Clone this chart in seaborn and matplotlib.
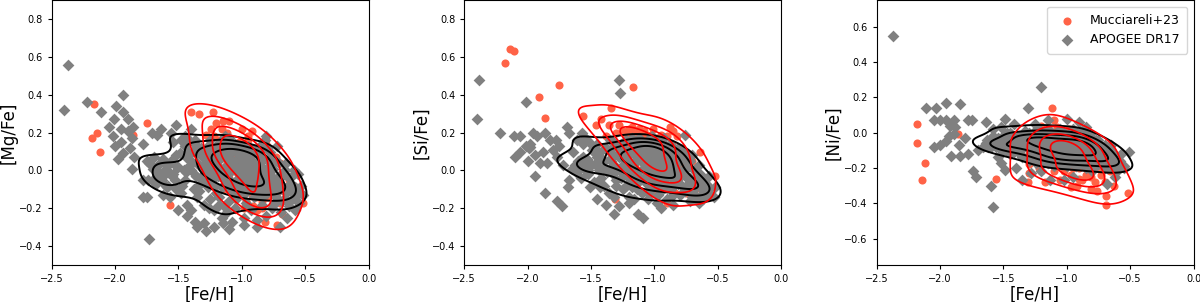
import matplotlib
matplotlib.use("Agg")
import matplotlib.pyplot as plt
import pandas as pd
import seaborn as sns

# ---- [Mg/Fe] vs [Fe/H] ------------------------------------------------------
apogee_mg = [
    (-2.37, 0.56), (-2.40, 0.32), (-2.22, 0.36), (-2.11, 0.31), (-1.94, 0.40), (-1.99, 0.34),
    (-1.94, 0.31), (-2.01, 0.27), (-1.90, 0.27), (-2.05, 0.23), (-1.95, 0.22), (-2.02, 0.18),
    (-1.90, 0.21), (-1.86, 0.23), (-2.00, 0.13), (-1.95, 0.15), (-1.87, 0.17), (-1.94, 0.09),
    (-1.85, 0.07), (-1.88, 0.12), (-1.78, 0.14), (-1.87, 0.01), (-1.71, 0.20), (-1.64, 0.22),
    (-1.67, 0.19), (-1.78, -0.05), (-1.73, 0.04), (-1.69, 0.07), (-1.75, -0.14), (-1.62, -0.13),
    (-1.60, -0.08), (-1.67, -0.03), (-1.62, -0.03), (-1.56, 0.20), (-1.52, 0.24), (-1.48, 0.16),
    (-1.50, -0.21), (-1.43, -0.24), (-1.37, -0.27), (-1.35, -0.30), (-1.73, -0.36),
    (-1.98, 0.06), (-1.45, 0.18), (-1.40, 0.22), (-0.81, 0.18),
    (-0.72, 0.13), (-1.30, -0.28), (-1.22, -0.30), (-1.10, -0.31), (-0.98, -0.29), (-0.88, -0.30),
    (-0.70, -0.30), (-0.64, -0.25), (-1.40, -0.21), (-1.28, -0.32), (-1.15, -0.28), (-0.60, -0.03),
    (-0.53, -0.08), (-1.54, 0.15), (-1.42, 0.16), (-1.75, 0.05), (-1.74, -0.05), (-1.78, -0.14),
    (-1.59, -0.09), (-1.62, -0.01), (-1.66, 0.03), (-1.64, -0.05), (-1.70, 0.01), (-1.61, 0.04),
    (-1.58, -0.01), (-1.68, -0.07),
    (-1.05, 0.05), (-1.00, 0.03), (-1.10, 0.06), (-0.95, 0.02), (-1.02, 0.08), (-1.08, 0.00),
    (-0.98, 0.07), (-1.12, 0.03), (-1.04, -0.01), (-0.92, 0.05), (-1.15, 0.08), (-1.06, 0.11),
    (-0.97, 0.10), (-0.90, 0.00), (-1.18, 0.02), (-1.00, -0.03), (-0.88, 0.04), (-1.13, -0.02),
    (-1.03, 0.13), (-0.94, -0.04), (-1.20, 0.06), (-1.25, 0.01), (-1.22, -0.04), (-1.28, 0.08),
    (-1.30, -0.02), (-1.35, 0.04), (-1.33, -0.07), (-1.40, 0.00), (-1.38, -0.10), (-1.45, -0.05),
    (-1.50, 0.02), (-1.48, -0.12), (-1.55, -0.03), (-1.60, 0.01), (-1.58, -0.08), (-1.65, -0.02),
    (-1.42, 0.09), (-1.27, 0.13), (-1.17, 0.15), (-1.10, 0.17), (-0.85, -0.02), (-0.80, -0.05),
    (-0.83, 0.06), (-0.75, -0.08), (-0.78, 0.01), (-0.70, -0.10), (-0.72, -0.04), (-0.65, -0.12),
    (-0.62, -0.07), (-0.60, -0.15), (-0.57, -0.11), (-0.55, -0.17), (-0.68, -0.16), (-0.73, -0.14),
    (-0.80, -0.12), (-0.86, -0.09), (-0.90, -0.07), (-0.95, -0.10), (-1.00, -0.09), (-1.05, -0.07),
    (-1.10, -0.10), (-1.15, -0.08), (-1.20, -0.12), (-1.25, -0.15), (-1.18, -0.18), (-1.10, -0.16),
    (-1.03, -0.14), (-0.97, -0.17), (-0.90, -0.14), (-0.84, -0.18), (-1.30, -0.18), (-1.22, -0.21),
    (-1.12, -0.22), (-1.05, -0.20), (-0.93, -0.21), (-1.35, -0.14), (-0.99, 0.00), (-1.07, 0.04),
    (-1.01, 0.06), (-0.96, 0.04), (-1.09, 0.09), (-1.04, 0.02), (-0.93, 0.08), (-1.14, 0.11),
    (-0.89, 0.10), (-0.86, 0.13), (-0.82, 0.16), (-0.78, 0.10), (-0.74, 0.05), (-0.66, 0.00),
    (-1.23, 0.10), (-1.32, 0.12), (-1.37, 0.16), (-1.45, 0.13), (-1.52, 0.08), (-1.62, 0.06),
    (-1.68, 0.00), (-1.70, -0.05), (-1.57, -0.14), (-1.43, -0.18), (-0.63, -0.19), (-0.58, -0.21),
    (-0.52, -0.13), (-0.69, -0.22), (-0.76, -0.20), (-0.81, -0.24), (-0.88, -0.26), (-0.98, -0.25),
    (-1.08, -0.27), (-1.16, -0.25),
    (-1.20, 0.00), (-1.24, 0.05), (-1.18, 0.09), (-1.14, 0.13), (-1.07, 0.14), (-0.99, 0.13),
    (-0.91, 0.11), (-0.86, 0.07), (-0.84, 0.02), (-0.87, -0.04), (-0.92, -0.08), (-0.98, -0.06),
    (-1.04, -0.05), (-1.12, -0.05), (-1.17, -0.03), (-1.26, -0.03), (-1.29, 0.04), (-1.22, 0.08),
    (-0.82, -0.08), (-0.77, -0.03), (-1.40, 0.05), (-1.44, -0.01), (-1.36, -0.03), (-1.32, 0.08),
    (-1.27, -0.09), (-1.18, -0.14), (-1.07, -0.12), (-0.99, -0.13), (-0.88, -0.11), (-0.77, -0.11),
    (-0.70, -0.07), (-0.66, -0.15), (-0.61, -0.11), (-0.58, -0.14), (-0.74, -0.17), (-0.84, -0.14),
    (-0.96, -0.19), (-1.14, -0.19), (-1.26, -0.20), (-1.34, -0.11), (-1.47, -0.08), (-1.53, -0.05),
    (-1.57, 0.04), (-1.63, -0.05), (-1.52, -0.10), (-0.68, -0.03), (-0.76, 0.07), (-0.80, 0.12),
    (-1.20, 0.13), (-1.13, 0.18),
    (-1.46, 0.00), (-1.44, 0.07), (-1.45, 0.13), (-1.36, -0.03), (-1.34, 0.03), (-1.35, 0.09),
    (-1.37, 0.14), (-1.26, -0.07), (-1.24, -0.02), (-1.25, 0.03), (-1.27, 0.08), (-1.23, 0.12),
    (-1.25, 0.16), (-1.16, -0.09), (-1.14, -0.04), (-1.15, 0.01), (-1.17, 0.06), (-1.13, 0.11),
    (-1.15, 0.15), (-1.06, -0.10), (-1.04, -0.05), (-1.05, 0.00), (-1.07, 0.05), (-1.03, 0.10),
    (-1.05, 0.14), (-0.96, -0.11), (-0.94, -0.06), (-0.95, -0.01), (-0.97, 0.04), (-0.93, 0.09),
    (-0.95, 0.13), (-0.86, -0.13), (-0.84, -0.08), (-0.85, -0.03), (-0.87, 0.02), (-0.83, 0.07),
    (-0.85, 0.11), (-0.76, -0.11), (-0.74, -0.05), (-0.75, 0.01), (-0.77, 0.07), (-0.66, -0.10),
    (-0.64, -0.03), (-0.65, 0.04), (-1.56, 0.05), (-1.54, -0.02), (-0.58, -0.09), (-0.56, -0.02),
    (-1.41, 0.03), (-1.39, 0.10), (-1.31, -0.05), (-1.29, 0.01), (-1.31, 0.07), (-1.21, -0.08),
    (-1.19, -0.03), (-1.21, 0.02), (-1.19, 0.07), (-1.21, 0.12), (-1.09, -0.09), (-1.11, -0.04),
    (-1.09, 0.01), (-1.11, 0.06), (-1.09, 0.11), (-1.01, -0.10), (-0.99, -0.05), (-1.01, 0.00),
    (-0.99, 0.05), (-1.01, 0.10), (-0.91, -0.11), (-0.89, -0.06), (-0.91, -0.01), (-0.89, 0.04),
    (-0.91, 0.09), (-0.81, -0.10), (-0.79, -0.05), (-0.81, 0.00), (-0.79, 0.05), (-0.71, -0.08),
    (-0.69, -0.02), (-0.71, 0.04), (-0.61, -0.07), (-0.59, 0.00), (-1.51, 0.02), (-1.49, 0.09),
]
mucc_mg = [
    (-2.17, 0.35), (-2.14, 0.20), (-2.18, 0.17), (-2.12, 0.10), (-1.75, 0.25), (-1.86, 0.19),
    (-1.57, -0.18), (-1.40, 0.31), (-1.34, 0.30), (-1.23, 0.31), (-1.20, 0.25), (-1.15, 0.26),
    (-1.10, 0.26), (-1.24, 0.22), (-1.16, 0.22), (-1.28, 0.19), (-1.00, 0.22), (-0.95, 0.18),
    (-0.99, 0.14), (-0.81, 0.14), (-0.73, 0.07), (-0.86, 0.06), (-0.70, 0.04), (-0.63, -0.05),
    (-0.59, -0.08), (-0.52, -0.17), (-0.89, -0.14), (-0.84, -0.16), (-0.80, -0.14), (-0.97, -0.16),
    (-0.91, -0.19), (-0.84, -0.20), (-0.76, -0.19), (-0.68, -0.23), (-0.82, -0.27), (-0.72, -0.29),
    (-1.10, 0.13), (-1.31, 0.09), (-1.07, 0.06),
    (-1.05, 0.05), (-1.00, 0.02), (-0.98, 0.08), (-1.08, 0.10), (-0.95, -0.02), (-1.03, -0.04),
    (-0.92, 0.04), (-1.12, 0.04), (-1.00, 0.11), (-0.90, -0.06), (-0.97, -0.08), (-1.06, 0.00),
    (-0.94, 0.10), (-1.02, 0.15), (-0.88, 0.00), (-1.15, 0.10), (-0.85, -0.10), (-1.10, -0.02),
    (-0.93, -0.12), (-1.18, 0.16), (-0.80, -0.05), (-1.20, 0.05), (-0.99, -0.01), (-1.04, 0.08),
    (-1.22, 0.18), (-1.18, 0.10), (-1.12, 0.20), (-1.08, -0.08), (-1.02, -0.12), (-0.95, 0.16),
    (-0.90, 0.12), (-0.86, 0.09), (-0.82, -0.02), (-0.78, -0.08), (-0.76, 0.02), (-0.72, -0.12),
    (-0.70, -0.17), (-0.88, -0.21), (-0.98, -0.20), (-1.05, -0.15), (-1.14, -0.10), (-1.20, -0.03),
    (-1.25, 0.10), (-0.92, 0.21),
]

# ---- [Si/Fe] vs [Fe/H] ------------------------------------------------------
apogee_si = [
    (-2.38, 0.48), (-2.40, 0.27), (-2.01, 0.36), (-2.22, 0.20), (-2.11, 0.18), (-2.06, 0.18),
    (-1.96, 0.20), (-1.93, 0.18), (-1.86, 0.20), (-1.98, 0.14), (-2.06, 0.10), (-1.94, 0.08),
    (-1.90, 0.04), (-1.85, 0.04), (-1.94, -0.03), (-1.77, 0.07), (-1.78, 0.16), (-1.75, 0.13),
    (-1.69, 0.23), (-1.67, 0.20), (-1.61, 0.16), (-1.72, 0.03), (-1.67, -0.05), (-1.68, -0.09),
    (-1.86, -0.12), (-1.77, -0.16), (-1.73, -0.19), (-1.53, 0.06), (-1.51, -0.09), (-1.43, -0.09),
    (-1.32, -0.23), (-1.28, -0.19), (-1.13, -0.23), (-1.09, -0.25), (-1.28, 0.48), (-1.27, 0.41),
    (-1.35, 0.16), (-1.57, 0.20), (-1.56, 0.14), (-1.80, 0.11), (-2.01, 0.13), (-2.10, 0.07),
    (-0.76, 0.19), (-0.52, -0.09), (-0.53, -0.14), (-0.72, -0.16), (-1.88, 0.10), (-1.82, 0.16),
    (-2.00, 0.05), (-1.64, 0.10), (-1.60, 0.02), (-1.58, -0.04), (-1.45, -0.15), (-1.38, -0.18),
    (-1.20, -0.17), (-0.95, -0.20), (-0.85, -0.18), (-0.65, -0.17), (-1.50, 0.14), (-1.46, 0.10),
    (-1.99, 0.12), (-1.98, 0.125), (-1.55, 0.17), (-1.54, 0.165),
    (-1.02, 0.05), (-0.98, 0.03), (-1.06, 0.06), (-0.95, 0.02), (-1.00, 0.08), (-1.04, 0.01),
    (-0.97, 0.06), (-1.09, 0.04), (-1.01, 0.00), (-0.93, 0.05), (-1.05, 0.09), (-0.99, 0.10),
    (-0.91, 0.01), (-1.12, 0.07), (-1.03, -0.02), (-0.96, -0.01), (-1.07, 0.02), (-1.00, 0.04),
    (-0.94, 0.08), (-1.10, 0.10), (-1.15, 0.08), (-1.20, 0.05), (-1.18, 0.12), (-1.25, 0.03),
    (-1.22, 0.10), (-1.13, 0.13), (-1.05, 0.14), (-0.95, 0.13), (-0.88, 0.08), (-0.85, 0.03),
    (-0.88, -0.02), (-0.92, -0.05), (-1.00, -0.05), (-1.08, -0.04), (-1.15, -0.02), (-1.20, -0.04),
    (-0.82, -0.05), (-0.80, 0.05), (-0.84, 0.11), (-1.28, 0.07), (-1.35, 0.06), (-1.40, 0.02),
    (-1.45, 0.07), (-1.50, 0.03), (-1.55, 0.00), (-1.60, 0.05), (-1.65, 0.01), (-1.42, -0.04),
    (-1.33, -0.02), (-1.30, -0.08), (-1.25, -0.10), (-1.18, -0.09), (-1.10, -0.12), (-1.02, -0.10),
    (-0.95, -0.11), (-0.87, -0.10), (-0.78, -0.08), (-0.72, -0.04), (-0.68, -0.09), (-0.62, -0.12),
    (-0.58, -0.08), (-0.56, -0.13), (-0.65, -0.03), (-0.74, 0.02), (-0.77, 0.10), (-0.70, 0.08),
    (-1.30, 0.13), (-1.22, 0.16), (-1.12, 0.17), (-1.02, 0.18), (-0.92, 0.17), (-1.38, 0.12),
    (-1.48, -0.06), (-1.36, -0.12), (-1.20, -0.14), (-1.05, -0.15), (-0.90, -0.15), (-0.80, -0.13),
    (-0.70, -0.14), (-0.62, -0.15),
    (-1.27, 0.00), (-1.32, 0.03), (-1.17, 0.01), (-1.13, -0.06), (-0.90, 0.11), (-0.86, -0.07),
    (-0.76, -0.02), (-0.66, -0.06), (-1.44, 0.00), (-1.52, -0.02), (-1.58, 0.06), (-1.62, -0.01),
    (-0.60, -0.10), (-1.10, 0.15), (-0.98, 0.15),
    (-1.16, 0.04), (-1.21, 0.08), (-1.17, 0.11), (-1.10, 0.13), (-1.00, 0.13), (-0.92, 0.11),
    (-0.86, 0.06), (-0.83, 0.01), (-0.86, -0.04), (-0.92, -0.08), (-0.99, -0.08), (-1.06, -0.06),
    (-1.13, -0.03), (-1.19, 0.00), (-1.24, 0.06), (-1.26, 0.10), (-0.80, -0.03), (-0.78, 0.07),
    (-0.88, 0.14), (-1.14, 0.16), (-1.34, 0.09), (-1.40, 0.05), (-1.37, -0.01), (-1.46, 0.04),
    (-1.52, 0.00), (-1.57, 0.03), (-1.63, 0.03), (-1.48, 0.10), (-1.30, -0.05), (-1.22, -0.08),
    (-1.14, -0.10), (-1.05, -0.12), (-0.97, -0.13), (-0.85, -0.13), (-0.76, -0.11), (-0.70, -0.11),
    (-0.64, -0.09), (-0.60, -0.13), (-0.57, -0.10), (-0.66, -0.14), (-0.73, -0.07), (-0.68, 0.00),
    (-0.72, 0.05), (-0.81, 0.12), (-1.26, 0.14), (-1.18, 0.17), (-1.40, -0.08), (-1.32, -0.14),
    (-1.16, -0.15), (-0.98, -0.17),
    (-1.46, 0.03), (-1.44, 0.09), (-1.45, 0.14), (-1.36, 0.00), (-1.34, 0.05), (-1.35, 0.11),
    (-1.33, 0.15), (-1.26, -0.04), (-1.24, 0.01), (-1.25, 0.06), (-1.27, 0.11), (-1.23, 0.15),
    (-1.16, -0.06), (-1.14, -0.01), (-1.15, 0.04), (-1.17, 0.09), (-1.13, 0.14), (-1.06, -0.07),
    (-1.04, -0.02), (-1.05, 0.03), (-1.07, 0.08), (-1.03, 0.12), (-1.05, 0.16), (-0.96, -0.08),
    (-0.94, -0.03), (-0.95, 0.02), (-0.97, 0.07), (-0.93, 0.11), (-0.95, 0.15), (-0.86, -0.09),
    (-0.84, -0.04), (-0.85, 0.01), (-0.87, 0.06), (-0.83, 0.10), (-0.76, -0.09), (-0.74, -0.04),
    (-0.75, 0.01), (-0.77, 0.06), (-0.66, -0.08), (-0.64, -0.02), (-0.65, 0.03), (-1.56, 0.07),
    (-1.54, 0.01), (-0.59, -0.07), (-0.57, -0.03), (-1.41, 0.06), (-1.39, 0.12), (-1.31, 0.02),
    (-1.29, 0.08), (-1.21, -0.02), (-1.19, 0.04), (-1.21, 0.10), (-1.11, -0.05), (-1.09, 0.01),
    (-1.11, 0.06), (-1.09, 0.11), (-1.01, -0.06), (-0.99, -0.01), (-1.01, 0.04), (-0.99, 0.09),
    (-1.01, 0.14), (-0.91, -0.07), (-0.89, -0.02), (-0.91, 0.03), (-0.89, 0.08), (-0.81, -0.07),
    (-0.79, -0.01), (-0.81, 0.04), (-0.71, -0.06), (-0.69, 0.00), (-0.61, -0.05), (-1.51, 0.04),
    (-1.49, 0.11),
]
mucc_si = [
    (-2.18, 0.57), (-2.14, 0.64), (-2.11, 0.63), (-1.91, 0.39), (-1.86, 0.28), (-1.75, 0.45),
    (-1.17, 0.44), (-1.34, 0.33), (-1.56, 0.29), (-1.46, 0.24), (-1.42, 0.27), (-1.36, 0.24),
    (-1.18, 0.23), (-1.08, 0.21), (-1.01, 0.22), (-0.88, 0.23), (-0.85, 0.21), (-0.64, 0.10),
    (-0.52, -0.03), (-1.31, -0.15), (-0.90, -0.17), (-0.77, -0.09),
    (-1.25, 0.21), (-1.22, 0.19), (-1.20, 0.22), (-1.17, 0.20), (-1.14, 0.18), (-1.12, 0.22),
    (-1.10, 0.19), (-1.06, 0.17), (-1.03, 0.19), (-0.98, 0.17), (-0.95, 0.19), (-1.19, 0.16),
    (-1.15, 0.15), (-1.08, 0.14), (-0.92, 0.14), (-1.28, 0.24), (-1.30, 0.20), (-0.82, 0.18),
    (-0.78, 0.12), (-0.70, 0.05),
    (-1.05, 0.10), (-1.00, 0.07), (-0.96, 0.05), (-1.02, 0.03), (-1.08, 0.08), (-0.98, 0.11),
    (-0.94, 0.02), (-1.04, 0.13), (-0.90, 0.06), (-0.92, -0.02), (-0.86, 0.00), (-1.10, 0.05),
    (-0.97, -0.04), (-0.83, -0.06), (-0.75, -0.12), (-0.65, -0.07), (-1.12, 0.11), (-0.88, 0.10),
    (-1.00, 0.00), (-0.80, 0.03), (-1.15, 0.02), (-1.20, 0.08),
    (-1.22, 0.14), (-1.18, 0.04), (-1.14, -0.02), (-1.06, -0.04), (-0.98, -0.08), (-0.92, -0.10),
    (-0.84, -0.12), (-0.80, -0.02), (-0.76, 0.06), (-0.72, -0.04), (-0.68, -0.10), (-0.86, 0.14),
    (-0.90, 0.18), (-1.26, 0.08), (-1.32, 0.14), (-1.38, 0.18), (-0.62, -0.04), (-1.02, -0.12),
    (-1.10, 0.00), (-0.95, 0.00),
]

# ---- [Ni/Fe] vs [Fe/H] ------------------------------------------------------
apogee_ni = [
    (-2.37, 0.55), (-2.11, 0.14), (-2.03, 0.14), (-1.95, 0.17), (-1.84, 0.16), (-2.05, 0.07),
    (-2.00, 0.07), (-1.95, 0.07), (-1.89, 0.07), (-2.05, -0.08), (-2.00, -0.07), (-1.93, -0.02),
    (-1.95, -0.05), (-1.91, -0.13), (-1.84, -0.13), (-1.85, -0.07), (-1.89, -0.01), (-1.78, 0.07),
    (-1.75, 0.07), (-1.78, -0.12), (-1.74, -0.22), (-1.72, -0.25), (-1.64, 0.06), (-1.63, -0.04),
    (-1.66, -0.08), (-1.58, 0.02), (-1.52, 0.03), (-1.49, 0.08), (-1.54, -0.14), (-1.60, -0.30),
    (-1.58, -0.42), (-1.49, -0.21), (-1.31, 0.14), (-1.20, 0.26), (-1.35, -0.27), (-0.90, 0.06),
    (-0.51, -0.11), (-0.60, -0.22), (-0.68, -0.29), (-1.13, -0.27), (-1.02, -0.27), (-1.88, 0.03),
    (-1.92, 0.04), (-1.80, -0.03), (-1.70, -0.10), (-1.56, -0.07), (-1.52, -0.17), (-1.45, -0.12),
    (-1.40, -0.20), (-1.47, 0.00), (-1.42, 0.05), (-1.25, 0.05), (-1.15, 0.07), (-1.00, 0.08),
    (-0.85, 0.03), (-0.70, -0.07), (-0.62, -0.25), (-0.55, -0.20), (-1.28, -0.23), (-1.20, -0.22),
    (-0.95, -0.25), (-0.80, -0.22),
    (-1.05, -0.07), (-1.00, -0.08), (-1.10, -0.06), (-0.95, -0.09), (-1.03, -0.05), (-1.08, -0.09),
    (-0.98, -0.06), (-1.13, -0.08), (-1.02, -0.10), (-0.93, -0.07), (-1.07, -0.04), (-0.97, -0.11),
    (-1.15, -0.05), (-0.90, -0.10), (-1.04, -0.12), (-1.11, -0.11), (-0.99, -0.03), (-0.94, -0.04),
    (-1.06, -0.08), (-1.01, -0.06), (-1.20, -0.04), (-1.25, -0.07), (-1.18, -0.10), (-1.30, -0.05),
    (-1.22, -0.01), (-1.12, -0.01), (-0.88, -0.05), (-0.85, -0.09), (-0.80, -0.12), (-0.87, -0.14),
    (-0.95, -0.14), (-1.05, -0.15), (-1.15, -0.14), (-1.25, -0.12), (-0.78, -0.07), (-0.92, 0.00),
    (-1.02, 0.00), (-0.75, -0.14), (-1.35, -0.08), (-1.28, -0.10), (-1.40, -0.05), (-1.45, -0.08),
    (-1.50, -0.04), (-1.55, -0.07), (-1.60, -0.05), (-1.62, -0.08), (-1.42, -0.11), (-1.35, -0.14),
    (-1.30, -0.16), (-1.20, -0.18), (-1.10, -0.19), (-1.00, -0.19), (-0.90, -0.18), (-0.80, -0.17),
    (-0.72, -0.16), (-0.68, -0.12), (-0.65, -0.18), (-0.60, -0.15), (-0.57, -0.19), (-0.70, -0.20),
    (-0.75, -0.04), (-0.82, -0.01), (-1.33, -0.01), (-1.25, 0.01), (-1.15, 0.02), (-1.05, 0.02),
    (-0.95, 0.02), (-0.85, -0.03), (-1.38, -0.02), (-1.48, -0.10), (-0.62, -0.21), (-0.67, -0.08),
    (-0.73, -0.10), (-0.77, -0.19), (-0.85, -0.20),
    (-1.18, -0.06), (-1.28, -0.03), (-1.45, -0.02), (-1.52, -0.09), (-1.58, -0.02),
    (-0.86, -0.11), (-0.82, -0.06), (-0.70, -0.13), (-0.63, -0.17), (-1.10, -0.16), (-0.97, -0.16),
    (-1.22, -0.15),
    (-1.19, -0.08), (-1.23, -0.04), (-1.21, -0.11), (-1.16, -0.01), (-1.08, 0.00), (-0.98, -0.01),
    (-0.89, -0.02), (-0.84, -0.06), (-0.83, -0.12), (-0.89, -0.14), (-0.98, -0.14), (-1.08, -0.14),
    (-1.17, -0.13), (-1.27, -0.06), (-1.30, -0.09), (-0.79, -0.09), (-0.86, -0.08), (-1.26, -0.01),
    (-0.93, -0.16), (-1.12, -0.17), (-1.34, -0.04), (-1.38, -0.08), (-1.42, -0.04), (-1.47, -0.06),
    (-1.53, -0.06), (-1.57, -0.04), (-1.60, -0.08), (-1.50, -0.10), (-1.37, -0.12), (-1.30, -0.13),
    (-1.24, -0.17), (-1.15, -0.17), (-1.04, -0.18), (-0.93, -0.19), (-0.83, -0.19), (-0.75, -0.18),
    (-0.70, -0.16), (-0.66, -0.14), (-0.62, -0.18), (-0.58, -0.16), (-0.55, -0.19), (-0.68, -0.20),
    (-0.72, -0.11), (-0.76, -0.06), (-0.80, -0.03), (-0.88, 0.01), (-1.20, 0.01), (-1.30, 0.00),
    (-1.44, -0.01), (-1.64, -0.06),
    (-1.46, -0.09), (-1.44, -0.04), (-1.45, 0.00), (-1.36, -0.10), (-1.34, -0.06), (-1.35, -0.02),
    (-1.33, 0.01), (-1.26, -0.13), (-1.24, -0.09), (-1.25, -0.05), (-1.27, -0.01), (-1.23, 0.02),
    (-1.16, -0.15), (-1.14, -0.11), (-1.15, -0.07), (-1.17, -0.03), (-1.13, 0.01), (-1.06, -0.16),
    (-1.04, -0.12), (-1.05, -0.08), (-1.07, -0.04), (-1.03, 0.00), (-0.96, -0.17), (-0.94, -0.13),
    (-0.95, -0.09), (-0.97, -0.05), (-0.93, -0.01), (-0.86, -0.17), (-0.84, -0.13), (-0.85, -0.09),
    (-0.87, -0.05), (-0.83, -0.02), (-0.76, -0.16), (-0.74, -0.12), (-0.75, -0.08), (-0.77, -0.04),
    (-0.66, -0.16), (-0.64, -0.11), (-0.65, -0.07), (-1.56, -0.08), (-1.54, -0.03), (-0.59, -0.16),
    (-0.57, -0.12), (-1.41, -0.07), (-1.39, -0.02), (-1.31, -0.08), (-1.29, -0.03), (-1.21, -0.11),
    (-1.19, -0.06), (-1.21, -0.02), (-1.11, -0.13), (-1.09, -0.09), (-1.11, -0.05), (-1.09, -0.01),
    (-1.01, -0.14), (-0.99, -0.10), (-1.01, -0.06), (-0.99, -0.02), (-0.91, -0.15), (-0.89, -0.11),
    (-0.91, -0.07), (-0.89, -0.03), (-0.81, -0.14), (-0.79, -0.10), (-0.81, -0.06), (-0.71, -0.13),
    (-0.69, -0.09), (-0.61, -0.14), (-1.51, -0.06), (-1.49, -0.01),
]
mucc_ni = [
    (-2.18, 0.05), (-2.18, -0.06), (-2.12, -0.17), (-2.14, -0.27), (-1.86, -0.01), (-1.56, -0.26),
    (-1.12, 0.14), (-1.31, -0.28), (-1.17, -0.28), (-1.05, -0.27), (-0.97, -0.31), (-0.88, -0.27),
    (-0.81, -0.32), (-0.76, -0.33), (-0.69, -0.36), (-0.69, -0.41), (-0.52, -0.34), (-0.63, -0.30),
    (-0.92, -0.30), (-0.81, -0.25), (-0.73, -0.24), (-1.30, -0.23), (-1.20, -0.22), (-0.97, -0.24),
    (-0.90, -0.26), (-0.85, -0.24), (-0.78, -0.28), (-1.10, 0.07), (-1.20, 0.04),
    (-1.05, -0.08), (-1.00, -0.06), (-1.10, -0.10), (-0.95, -0.10), (-1.03, -0.04), (-1.08, -0.05),
    (-0.98, -0.12), (-1.12, -0.07), (-1.05, -0.13), (-0.92, -0.07), (-0.90, -0.14), (-1.15, -0.12),
    (-1.00, -0.16), (-0.88, -0.18), (-1.18, -0.02), (-0.85, -0.10), (-1.25, -0.08), (-1.22, -0.15),
    (-0.80, -0.20), (-1.07, -0.19), (-0.95, -0.20), (-1.30, -0.12), (-0.75, -0.15), (-1.02, -0.09),
    (-1.25, -0.02), (-1.22, -0.20), (-1.18, 0.00), (-1.15, -0.18), (-1.10, -0.22), (-1.02, -0.22),
    (-0.95, -0.02), (-0.90, -0.20), (-0.85, -0.16), (-0.82, -0.06), (-0.78, -0.12), (-0.75, -0.20),
    (-0.72, -0.08), (-0.70, -0.28), (-1.30, -0.18), (-1.35, -0.06), (-0.98, 0.02), (-1.08, 0.03),
    (-0.88, -0.01), (-0.66, -0.22),
]

panels = [
    ("[Mg/Fe]", apogee_mg, mucc_mg, (-0.5, 0.9), [-0.4, -0.2, 0.0, 0.2, 0.4, 0.6, 0.8]),
    ("[Si/Fe]", apogee_si, mucc_si, (-0.5, 0.9), [-0.4, -0.2, 0.0, 0.2, 0.4, 0.6, 0.8]),
    ("[Ni/Fe]", apogee_ni, mucc_ni, (-0.75, 0.75), [-0.6, -0.4, -0.2, 0.0, 0.2, 0.4, 0.6]),
]
x_ticks = [-2.5, -2.0, -1.5, -1.0, -0.5, 0.0]

fig = plt.figure(figsize=(12, 3.02), dpi=100)
lefts = [0.0431, 0.3869, 0.7306]

for i, (ylabel, apogee, mucc, ylim, yticks) in enumerate(panels):
    ax = fig.add_axes([lefts[i], 0.1225, 0.2640, 0.8765])
    df_a = pd.DataFrame(apogee, columns=["feh", "xfe"])
    df_m = pd.DataFrame(mucc, columns=["feh", "xfe"])

    # Mucciarelli d'abord, APOGEE par dessus, puis les contours KDE
    sns.scatterplot(data=df_m, x="feh", y="xfe", color="tomato", marker="o", s=34,
                    linewidth=0, ax=ax, label="Mucciareli+23", zorder=2)
    sns.scatterplot(data=df_a, x="feh", y="xfe", color="grey", marker="D", s=36,
                    linewidth=0, ax=ax, label="APOGEE DR17", zorder=3)
    sns.kdeplot(data=df_a, x="feh", y="xfe", levels=[0.26, 0.45, 0.64, 0.83], bw_adjust=0.8,
                color="black", linewidths=1.4, ax=ax, zorder=4)
    sns.kdeplot(data=df_m, x="feh", y="xfe", levels=5, thresh=0.2, bw_adjust=0.9,
                color="red", linewidths=1.2, ax=ax, zorder=5)

    ax.set_xlim(-2.5, 0.0)
    ax.set_ylim(*ylim)
    ax.set_xticks(x_ticks)
    ax.set_yticks(yticks)
    ax.tick_params(labelsize=7, length=3)
    ax.set_xlabel("[Fe/H]", fontsize=12, labelpad=1)
    ax.set_ylabel(ylabel, fontsize=12, labelpad=1)

    if i == 2:
        ax.legend(loc="upper right", fontsize=9, borderpad=0.6, handletextpad=0.8)
    else:
        ax.get_legend().remove()

plt.savefig("out.png", dpi=100)
plt.close()
